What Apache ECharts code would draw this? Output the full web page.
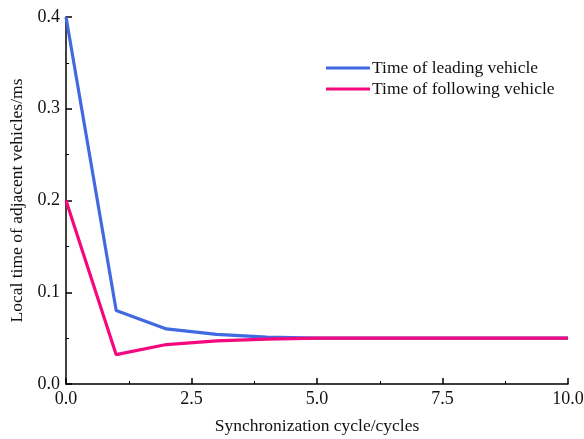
<!DOCTYPE html>
<html>
<head>
<meta charset="utf-8">
<script src="https://cdn.jsdelivr.net/npm/echarts@6/dist/echarts.min.js"></script>
<style>
  html, body { margin: 0; padding: 0; background: #fff; }
  #chart { width: 584px; height: 439px; }
</style>
</head>
<body>
<div id="chart"></div>
<script>
// 数据
var cycles = [0, 1, 2, 3, 4, 5, 6, 7, 8, 9, 10];
var leading = [0.4, 0.08, 0.06, 0.054, 0.051, 0.05, 0.05, 0.05, 0.05, 0.05, 0.05];
var following = [0.2, 0.032, 0.043, 0.047, 0.049, 0.05, 0.05, 0.05, 0.05, 0.05, 0.05];
var seriesNames = ["Time of leading vehicle", "Time of following vehicle"];

(function () {
  var myChart = echarts.init(document.getElementById("chart"));
  var font = "Liberation Serif";

  function pairs(ys) {
    return cycles.map(function (x, i) { return [x, ys[i]]; });
  }

  var option = {
    animation: false,
    color: ["#4169E1", "#F5087E"],
    grid: { left: 66, right: 16, top: 17, bottom: 55, outerBoundsMode: "none", containLabel: false },
    legend: {
      orient: "vertical",
      left: 321,
      top: 54,
      icon: "rect",
      itemWidth: 44,
      itemHeight: 3,
      itemGap: 3,
      textStyle: { fontFamily: font, fontSize: 17.5, color: "#111", padding: [0, 0, 0, -3] },
      data: seriesNames
    },
    xAxis: {
      type: "value",
      min: 0,
      max: 10,
      interval: 2.5,
      name: "Synchronization cycle/cycles",
      nameLocation: "middle",
      nameGap: 33,
      nameTextStyle: { fontFamily: font, fontSize: 17.5, color: "#111" },
      axisLine: { lineStyle: { color: "#000", width: 1.5 } },
      axisTick: { show: true, inside: true, length: 6, lineStyle: { color: "#000", width: 1.5 } },
      minorTick: { show: true, splitNumber: 2, length: 3, lineStyle: { color: "#000", width: 1 } },
      axisLabel: {
        fontFamily: font, fontSize: 18, color: "#111", margin: 6,
        formatter: function (v) { return v.toFixed(1); }
      },
      splitLine: { show: false }
    },
    yAxis: {
      type: "value",
      min: 0,
      max: 0.4,
      interval: 0.1,
      name: "Local time of adjacent vehicles/ms",
      nameLocation: "middle",
      nameGap: 40,
      nameTextStyle: { fontFamily: font, fontSize: 17.5, color: "#111" },
      axisLine: { show: true, lineStyle: { color: "#000", width: 1.5 } },
      axisTick: { show: true, inside: true, length: 6, lineStyle: { color: "#000", width: 1.5 } },
      minorTick: { show: true, splitNumber: 2, length: 3, lineStyle: { color: "#000", width: 1 } },
      axisLabel: {
        fontFamily: font, fontSize: 18, color: "#111", margin: 6,
        formatter: function (v) { return v.toFixed(1); }
      },
      splitLine: { show: false }
    },
    series: [
      {
        name: seriesNames[0],
        type: "line",
        symbol: "none",
        lineStyle: { width: 3.2 },
        data: pairs(leading)
      },
      {
        name: seriesNames[1],
        type: "line",
        symbol: "none",
        lineStyle: { width: 3.2 },
        data: pairs(following)
      }
    ]
  };

  myChart.setOption(option);
  window.addEventListener("resize", function () {
    myChart.resize();
  });
})();
</script>
</body>
</html>
